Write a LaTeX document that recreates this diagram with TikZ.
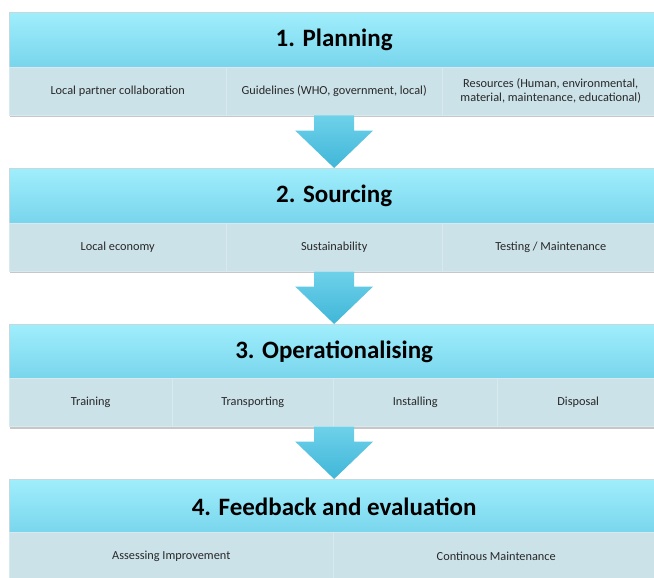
\documentclass[tikz,border=0pt]{standalone}
\usepackage{fontspec}
\setmainfont{Carlito}
\usetikzlibrary{calc}
\definecolor{hdtop}{RGB}{160,238,252}
\definecolor{hdbot}{RGB}{120,213,236}
\definecolor{cellc}{RGB}{204,226,233}
\definecolor{divc}{RGB}{216,233,239}
\definecolor{edgec}{RGB}{200,215,220}
\definecolor{artop}{RGB}{110,209,234}
\definecolor{arbot}{RGB}{64,182,216}
\definecolor{subtext}{RGB}{40,40,40}
\tikzset{
  header/.style={anchor=north west, minimum width=650pt, minimum height=55pt, inner sep=0pt,
    top color=hdtop, bottom color=hdbot, draw=edgec, line width=0.3pt,
    font=\bfseries\fontsize{25}{29}\selectfont},
  cell/.style={anchor=north west, minimum height=48pt, inner sep=0pt, fill=cellc,
    draw=divc, line width=0.5pt, text=subtext, align=center,
    font=\fontsize{12.3}{14}\selectfont},
  shade/.style={fill=black, opacity=0.22},
  flow/.style={top color=artop, bottom color=arbot, draw=none}
}
\newcommand\flowarrow[2]{%
  \path[flow] let \p1=(#1), \p2=(#2) in
    (\x1-20pt,\y1) -- (\x1+20pt,\y1) -- (\x1+20pt,\y1-15pt) -- (\x1+39pt,\y1-15pt)
    -- (\x2,\y2) -- (\x1-39pt,\y1-15pt) -- (\x1-20pt,\y1-15pt) -- cycle;}
\begin{document}
\begin{tikzpicture}[x=1pt,y=-1pt]
\useasboundingbox (0,0) rectangle (654,578);
\clip (0,0) rectangle (654,578);
\fill[white] (0,0) rectangle (654,578);
% shadows
\fill[shade] (10,14) rectangle (661,117);
\fill[shade] (10,170) rectangle (661,273);
\fill[shade] (10,326) rectangle (661,429);
\fill[shade] (10,481) rectangle (661,584);
% Box 1
\node[header] (h1) at (9,12) {1. Planning};
\node[cell, minimum width=217pt] (c11) at (9,67) {Local partner collaboration};
\node[cell, minimum width=216pt] (c12) at (226,67) {Guidelines (WHO, government, local)};
\node[cell, minimum width=217pt] (c13) at (442,67) {Resources (Human, environmental,\\material, maintenance, educational)};
% Box 2
\node[header] (h2) at (9,168) {2. Sourcing};
\node[cell, minimum width=217pt] (c21) at (9,223) {Local economy};
\node[cell, minimum width=216pt] (c22) at (226,223) {Sustainability};
\node[cell, minimum width=217pt] (c23) at (442,223) {Testing / Maintenance};
% Box 3
\node[header] (h3) at (9,324) {3. Operationalising};
\node[cell, minimum width=163pt] (c31) at (9,378) {Training};
\node[cell, minimum width=161pt] (c32) at (172,378) {Transporting};
\node[cell, minimum width=164pt] (c33) at (333,378) {Installing};
\node[cell, minimum width=162pt] (c34) at (497,378) {Disposal};
% Box 4
\node[header] (h4) at (9,479) {4. Feedback and evaluation};
\node[cell, minimum width=324pt] (c41) at (9,532) {Assessing Improvement};
\node[cell, minimum width=326pt] (c42) at (333,532) {Continous Maintenance};
% arrow anchors
\coordinate (a1s) at (h1.south |- c11.south);
\coordinate (a2s) at (h2.south |- c21.south);
\coordinate (a3s) at (h3.south |- c31.south);
\flowarrow{a1s}{h2.north}
\flowarrow{a2s}{h3.north}
\flowarrow{a3s}{h4.north}
\end{tikzpicture}
\end{document}
